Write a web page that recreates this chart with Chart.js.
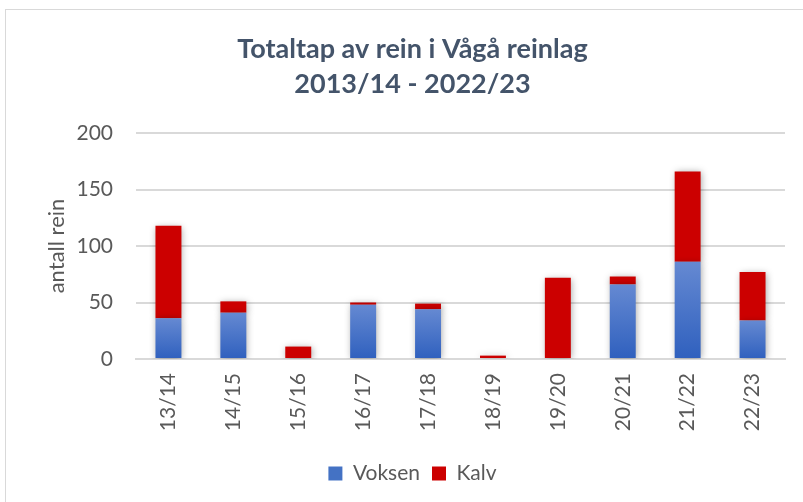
<!DOCTYPE html>
<html>
<head>
<meta charset="utf-8">
<script src="https://cdn.jsdelivr.net/npm/chart.js@4/dist/chart.umd.min.js"></script>
<style>
  html, body { margin: 0; padding: 0; background: #ffffff; }
  #wrap { position: relative; width: 803px; height: 502px; overflow: hidden; }
  #frame { position: absolute; left: 5px; top: 9px; width: 820px; height: 520px; border: 1px solid #d9d9d9; box-sizing: border-box; }
  canvas { position: absolute; left: 0; top: 0; }
</style>
</head>
<body>
<div id="wrap">
  <div id="frame"></div>
  <canvas id="c" width="803" height="502"></canvas>
</div>
<script>
const categories = ["13/14", "14/15", "15/16", "16/17", "17/18", "18/19", "19/20", "20/21", "21/22", "22/23"];
const voksen = [36, 41, 0, 48, 44, 0, 0, 66, 86, 34];
const kalv = [82, 10, 11, 2, 5, 3, 72, 7, 80, 43];
const yTicks = [0, 50, 100, 150, 200];
const titleLines = ["Totaltap av rein i Vågå reinlag", "2013/14 - 2022/23"];
const yTitle = "antall rein";

const FONT = "Lato, 'Open Sans', sans-serif";

function blueGradient(ctx) {
  const chart = ctx.chart;
  if (!chart.chartArea || ctx.type !== 'data') return '#4472C4';
  const y = chart.scales.y;
  const top = y.getPixelForValue(ctx.parsed.y);
  const bottom = y.getPixelForValue(0);
  if (!isFinite(top) || !isFinite(bottom) || Math.abs(bottom - top) < 1) return '#4472C4';
  const g = chart.ctx.createLinearGradient(0, top, 0, bottom);
  g.addColorStop(0, '#6589D2');
  g.addColorStop(1, '#2F60BE');
  return g;
}

const shadowPlugin = {
  id: 'barShadow',
  beforeDatasetsDraw(chart) {
    const c = chart.ctx;
    c.save();
    c.shadowColor = 'rgba(0,0,0,0.35)';
    c.shadowBlur = 7;
    c.shadowOffsetX = 1;
    c.shadowOffsetY = 1;
  },
  afterDatasetsDraw(chart) {
    chart.ctx.restore();
  }
};

new Chart(document.getElementById('c'), {
  type: 'bar',
  data: {
    labels: categories,
    datasets: [
      { label: 'Voksen', data: voksen, backgroundColor: blueGradient, borderWidth: 0 },
      { label: 'Kalv', data: kalv, backgroundColor: '#CC0000', borderWidth: 0 }
    ]
  },
  plugins: [shadowPlugin],
  options: {
    responsive: false,
    animation: false,
    devicePixelRatio: 1,
    layout: { padding: { left: 40, right: 18, top: 10, bottom: 8 } },
    datasets: { bar: { categoryPercentage: 1, barPercentage: 0.4 } },
    plugins: {
      title: {
        display: true,
        text: titleLines,
        color: '#44546A',
        font: { family: FONT, size: 27, weight: 'bold', lineHeight: '35px' },
        padding: { top: 22, bottom: 31 }
      },
      legend: {
        display: true,
        position: 'bottom',
        labels: {
          color: '#595959',
          font: { family: FONT, size: 21 },
          boxWidth: 14,
          boxHeight: 14,
          padding: 12,
          generateLabels(chart) {
            return chart.data.datasets.map((ds, i) => ({
              text: ds.label,
              fillStyle: i === 0 ? '#4472C4' : '#CC0000',
              strokeStyle: 'rgba(0,0,0,0)',
              lineWidth: 0,
              hidden: false,
              datasetIndex: i,
              fontColor: '#595959'
            }));
          }
        }
      },
      tooltip: { enabled: false }
    },
    scales: {
      x: {
        stacked: true,
        grid: { display: false, drawTicks: false },
        border: { display: true, color: '#d9d9d9', width: 2 },
        ticks: {
          color: '#595959',
          font: { family: FONT, size: 21 },
          minRotation: 90,
          maxRotation: 90,
          padding: 14
        },
        afterFit(scale) { scale.height = 92; }
      },
      y: {
        stacked: true,
        min: 0,
        max: 200,
        afterBuildTicks(scale) { scale.ticks = yTicks.map(v => ({ value: v })); },
        grid: { color: '#d9d9d9', lineWidth: 2, drawTicks: false },
        border: { display: false },
        ticks: {
          color: '#595959',
          font: { family: FONT, size: 21 },
          padding: 23
        },
        title: {
          display: true,
          text: yTitle,
          color: '#595959',
          font: { family: FONT, size: 22 },
          padding: { top: 4, bottom: 4 }
        },
        afterFit(scale) { scale.width = 96; }
      }
    }
  }
});
</script>
</body>
</html>
